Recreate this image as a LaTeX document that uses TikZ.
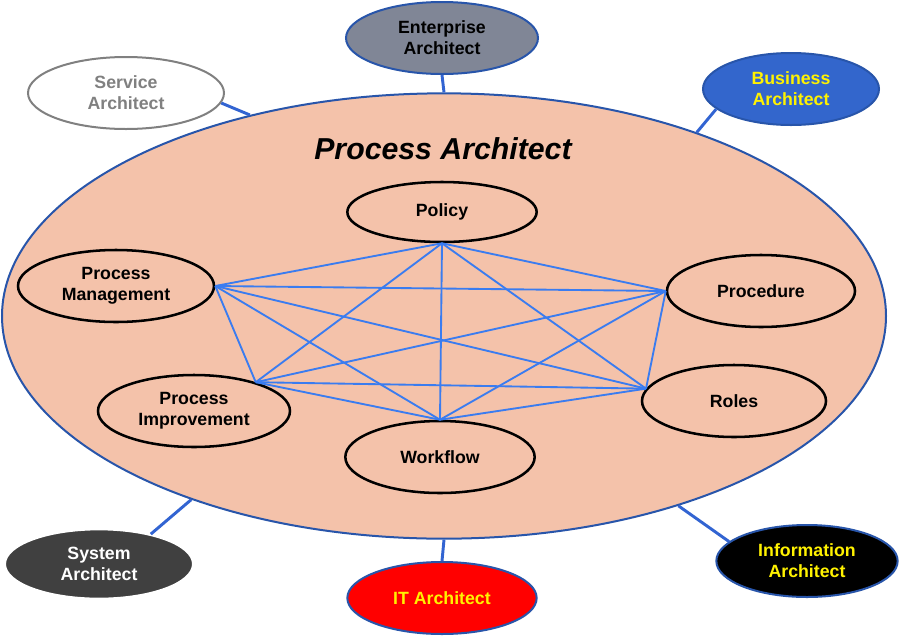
\documentclass[tikz,border=0pt]{standalone}
\usepackage{fontspec}
\setmainfont{Liberation Sans}
\usetikzlibrary{shapes.geometric}
\definecolor{salmon}{RGB}{244,194,170}
\definecolor{borderblue}{RGB}{40,85,170}
\definecolor{linkblue}{RGB}{50,100,210}
\definecolor{meshblue}{RGB}{58,124,240}
\definecolor{slate}{RGB}{128,134,150}
\definecolor{bizblue}{RGB}{51,102,204}
\definecolor{darkgray}{RGB}{64,64,64}
\definecolor{midgray}{RGB}{128,128,128}
\newcommand{\labelfont}{\fontsize{13.3}{15.8}\selectfont\bfseries}
\tikzstyle{role} = [ellipse, draw=black, line width=1.9pt, fill=salmon,
    inner sep=0pt, minimum width=142pt, minimum height=54pt, align=center, font=\labelfont]
\tikzstyle{architect} = [ellipse, draw=borderblue, line width=1.5pt,
    inner sep=0pt, minimum width=143pt, minimum height=54pt, align=center, font=\labelfont]
\tikzstyle{link} = [draw, linkblue, line width=2.2pt]
\tikzstyle{mesh} = [draw, meshblue, line width=1.4pt]

\begin{document}
\begin{tikzpicture}[x=0.75pt, y=-0.75pt]
        \useasboundingbox [fill=white] (0,0) rectangle (900,640);
        % Place nodes
        \node [ellipse, draw=borderblue, line width=1.5pt, fill=salmon, inner sep=0pt,
            minimum width=663pt, minimum height=334pt] (process) at (444,316) {};
        \node [font=\fontsize{22.7}{27}\selectfont\bfseries\itshape] (title) at (443,149) {Process Architect};
        \node [architect, draw=midgray, fill=white, text=midgray, minimum width=147pt] (service) at (126,93) {Service\\Architect};
        \node [architect, fill=slate, minimum width=144pt] (enterprise) at (442,38) {Enterprise\\Architect};
        \node [architect, fill=bizblue, text=yellow, minimum width=132pt] (business) at (791,89) {Business\\Architect};
        \node [architect, draw=white, fill=darkgray, text=white, minimum width=141pt, minimum height=52pt] (system) at (99,564) {System\\Architect};
        \node [architect, fill=red, text=yellow, minimum width=142pt] (it) at (442,598) {IT Architect};
        \node [architect, fill=black, text=yellow, minimum width=136pt] (information) at (807,561) {Information\\Architect};
        % Inner nodes
        \node [role, minimum height=45pt] (policy) at (442,212) {Policy};
        \node [role, minimum width=147pt] (management) at (116,286) {Process\\Management};
        \node [role, minimum width=141pt] (procedure) at (761,291) {Procedure};
        \node [role, minimum width=144pt] (improvement) at (194,411) {Process\\Improvement};
        \node [role, minimum width=138pt] (roles) at (734,401) {Roles};
        \node [role] (workflow) at (440,457) {Workflow};
        % Draw edges
        \path [link] (service.-6) -- (process.134);
        \path [link] (enterprise.south) -- (process.north);
        \path [link] (business.195) -- (process.36);
        \path [link] (system.30) -- (process.216);
        \path [link] (it.north) -- (process.south);
        \path [link] (information.166) -- (process.-39);
        % Mesh between inner nodes
        \path [mesh] (policy.south) -- (management.east);
        \path [mesh] (policy.south) -- (procedure.west);
        \path [mesh] (policy.south) -- (improvement.25);
        \path [mesh] (policy.south) -- (roles.172);
        \path [mesh] (policy.south) -- (workflow.north);
        \path [mesh] (management.east) -- (procedure.west);
        \path [mesh] (management.east) -- (improvement.25);
        \path [mesh] (management.east) -- (roles.172);
        \path [mesh] (management.east) -- (workflow.north);
        \path [mesh] (procedure.west) -- (improvement.25);
        \path [mesh] (procedure.west) -- (roles.172);
        \path [mesh] (procedure.west) -- (workflow.north);
        \path [mesh] (improvement.25) -- (roles.172);
        \path [mesh] (improvement.25) -- (workflow.north);
        \path [mesh] (roles.172) -- (workflow.north);
    \end{tikzpicture}
\end{document}
